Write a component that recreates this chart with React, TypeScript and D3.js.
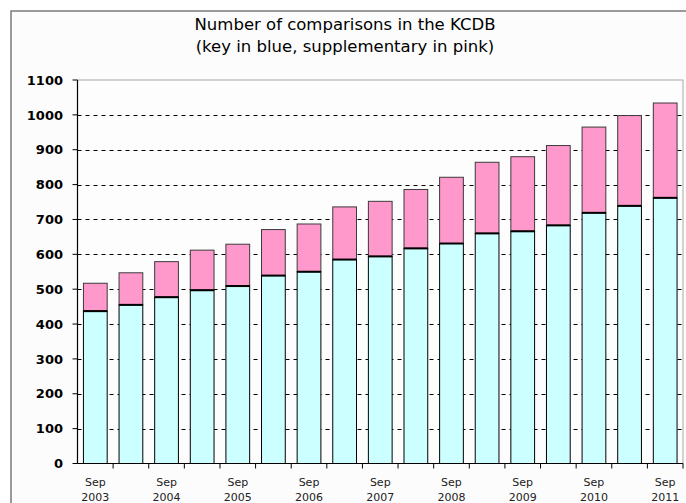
import React from "react";
import * as d3 from "d3";

const periods = ["Sep 2003","Mar 2004","Sep 2004","Mar 2005","Sep 2005","Mar 2006","Sep 2006","Mar 2007","Sep 2007","Mar 2008","Sep 2008","Mar 2009","Sep 2009","Mar 2010","Sep 2010","Mar 2011","Sep 2011"];
const keyValues = [437,455,477,497,509,539,550,585,594,617,631,660,666,683,719,739,762];
const suppValues = [80,92,102,115,120,132,137,151,158,169,190,204,214,229,246,259,272];
const yTicks = [0,100,200,300,400,500,600,700,800,900,1000,1100];
const titleLines = ["Number of comparisons in the KCDB","(key in blue, supplementary in pink)"];

const W = 686, H = 503;
const left = 77.5, right = 683, top = 80, bottom = 463.5;

export default function App() {
  const x = d3.scaleBand<string>().domain(periods).range([left, right]).paddingInner(1/3).paddingOuter(1/6);
  const band = d3.scaleBand<string>().domain(periods).range([left, right]);
  const y = d3.scaleLinear().domain([0, 1100]).range([bottom, top]);
  const bw = x.bandwidth();
  const font = "'DejaVu Sans', Verdana, sans-serif";
  return (
    <svg width={W} height={H} style={{ position: "absolute", left: 0, top: 0 }}>
      <rect x={0} y={0} width={W} height={H} fill="#ffffff" />
      <rect x={11} y={11} width={W + 10} height={H + 10} fill="#fcfcfc" stroke="#7a7a7a" strokeWidth={1.5} />
      {titleLines.map((t, i) => (
        <text key={i} x={345} y={30 + i * 22} textAnchor="middle" fontFamily={font} fontSize={16.5} fill="#000">{t}</text>
      ))}
      <rect x={left} y={top} width={right - left} height={bottom - top} fill="#fdfdfd" stroke="#a8a8a8" strokeWidth={1} />
      {yTicks.filter(v => v > 0 && v < 1100).map(v => (
        <line key={v} x1={left} x2={right} y1={Math.round(y(v)) + 0.5} y2={Math.round(y(v)) + 0.5} stroke="#000" strokeDasharray="4,4" strokeWidth={1} />
      ))}
      {periods.map((p, i) => {
        const k = keyValues[i], s = suppValues[i];
        const x0 = x(p)!;
        return (
          <g key={p}>
            <rect x={x0} y={y(k + s)} width={bw} height={y(k) - y(k + s)} fill="#ff99cc" stroke="#3a3a3a" strokeWidth={1} />
            <rect x={x0} y={y(k)} width={bw} height={bottom - y(k)} fill="#ccffff" stroke="#000" strokeWidth={1} />
            <line x1={x0} x2={x0 + bw} y1={y(k)} y2={y(k)} stroke="#000" strokeWidth={2} />
          </g>
        );
      })}
      <line x1={left} x2={left} y1={top} y2={bottom} stroke="#000" strokeWidth={1.2} />
      <line x1={left} x2={right} y1={bottom} y2={bottom} stroke="#000" strokeWidth={1.2} />
      {yTicks.map(v => (
        <g key={v}>
          <line x1={left - 5} x2={left} y1={y(v)} y2={y(v)} stroke="#000" />
          <text x={63} y={y(v)} dy="0.36em" textAnchor="end" fontFamily={font} fontWeight="bold" fontSize={13} fill="#000">{v}</text>
        </g>
      ))}
      {periods.map((p) => (
        <line key={p} x1={band(p)! + band.bandwidth()} x2={band(p)! + band.bandwidth()} y1={bottom} y2={bottom + 5} stroke="#000" />
      ))}
      {periods.map((p, i) => i % 2 === 0 ? (
        <g key={p}>
          <text x={x(p)! + bw / 2} y={486} textAnchor="middle" fontFamily={font} fontSize={11} fill="#222">{p.split(" ")[0]}</text>
          <text x={x(p)! + bw / 2} y={501} textAnchor="middle" fontFamily={font} fontSize={11} fill="#222">{p.split(" ")[1]}</text>
        </g>
      ) : null)}
    </svg>
  );
}
